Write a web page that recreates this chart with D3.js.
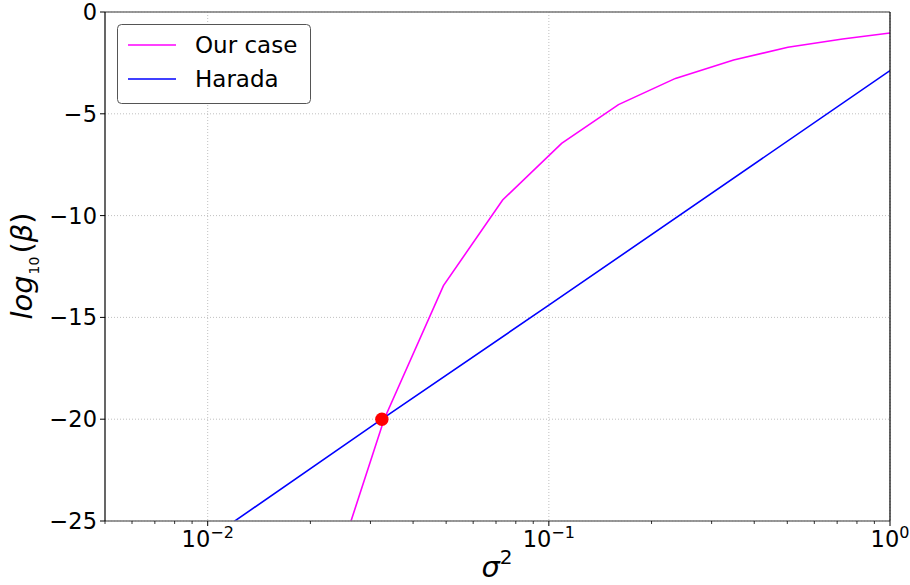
<!DOCTYPE html>
<html>
<head>
<meta charset="utf-8">
<script src="https://cdn.jsdelivr.net/npm/d3@7"></script>
<style>
  html, body { margin: 0; padding: 0; background: #fff; }
  svg { display: block; font-family: "DejaVu Sans", sans-serif; }
</style>
</head>
<body>
<svg id="chart" width="910" height="585"></svg>
<script>
// σ² sample points and log10(β) for the present model
const ourSigma2 = [1, 0.726, 0.502, 0.348, 0.235, 0.160, 0.109, 0.0732, 0.0491, 0.0329, 0.0227];
const ourLogBeta = [-1.03, -1.33, -1.73, -2.36, -3.26, -4.55, -6.45, -9.23, -13.44, -20.0, -28.3];

// Harada et al. estimate (straight line in log σ²)
const haradaSigma2 = [1, 0.1, 0.0324, 0.01, 0.005];
const haradaLogBeta = [-2.88, -14.40, -20.0, -25.92, -29.39];

// crossing point of the two curves
const crossSigma2 = [0.0324];
const crossLogBeta = [-20.0];

const xMajorTicks = [0.01, 0.1, 1];
const xMajorExps = ["−2", "−1", "0"];
const yTicks = [0, -5, -10, -15, -20, -25];
const seriesNames = ["Our case", "Harada"];
const seriesColors = ["#ff00ff", "#0000ff"];

const svg = d3.select("#chart");
const pL = 105, pR = 890, pT = 12, pB = 521;

const x = d3.scaleLog().domain([0.005, 1]).range([pL, pR]);
const y = d3.scaleLinear().domain([-25, 0]).range([pB, pT]);

// grid
const grid = svg.append("g").attr("stroke", "#b0b0b0").attr("stroke-width", 0.8)
  .attr("stroke-dasharray", "1,2");
grid.selectAll("line.gx").data(xMajorTicks).join("line").attr("class", "gx")
  .attr("x1", d => x(d)).attr("x2", d => x(d)).attr("y1", pT).attr("y2", pB);
grid.selectAll("line.gy").data(yTicks).join("line").attr("class", "gy")
  .attr("x1", pL).attr("x2", pR).attr("y1", d => y(d)).attr("y2", d => y(d));

// clip for the curves
svg.append("defs").append("clipPath").attr("id", "plotclip")
  .append("rect").attr("x", pL).attr("y", pT).attr("width", pR - pL).attr("height", pB - pT);

const line = d3.line().x(d => x(d[0])).y(d => y(d[1]));
const plot = svg.append("g").attr("clip-path", "url(#plotclip)");

plot.append("path")
  .datum(ourSigma2.map((s, i) => [s, ourLogBeta[i]]))
  .attr("d", line).attr("fill", "none").attr("stroke", seriesColors[0]).attr("stroke-width", 1.6);
plot.append("path")
  .datum(haradaSigma2.map((s, i) => [s, haradaLogBeta[i]]))
  .attr("d", line).attr("fill", "none").attr("stroke", seriesColors[1]).attr("stroke-width", 1.6);

svg.selectAll("circle.cross").data(crossSigma2).join("circle").attr("class", "cross")
  .attr("cx", d => x(d)).attr("cy", (d, i) => y(crossLogBeta[i])).attr("r", 6.7)
  .attr("fill", "#ff0000");

// frame
svg.append("line").attr("x1", pL).attr("x2", pR).attr("y1", pT).attr("y2", pT)
  .attr("stroke", "#777").attr("stroke-width", 1.6);
svg.append("line").attr("x1", pL).attr("x2", pR).attr("y1", pB).attr("y2", pB)
  .attr("stroke", "#777").attr("stroke-width", 1.6);
svg.append("line").attr("x1", pL).attr("x2", pL).attr("y1", pT).attr("y2", pB)
  .attr("stroke", "#000").attr("stroke-width", 1.2);
svg.append("line").attr("x1", pR).attr("x2", pR).attr("y1", pT).attr("y2", pB)
  .attr("stroke", "#000").attr("stroke-width", 1.2);

// x axis ticks
const minor = [];
[0.001, 0.01, 0.1].forEach(base => { for (let k = 2; k <= 9; k++) { const v = base * k; if (v >= 0.005 && v < 1) minor.push(v); } });
svg.append("g").selectAll("line").data(minor).join("line")
  .attr("x1", d => x(d)).attr("x2", d => x(d)).attr("y1", pB).attr("y2", pB + 3)
  .attr("stroke", "#000").attr("stroke-width", 0.8);
svg.append("g").selectAll("line").data(xMajorTicks).join("line")
  .attr("x1", d => x(d)).attr("x2", d => x(d)).attr("y1", pB).attr("y2", pB + 5)
  .attr("stroke", "#000").attr("stroke-width", 1);

const xl = svg.append("g").selectAll("text").data(xMajorTicks).join("text")
  .attr("x", d => x(d)).attr("y", 547).attr("text-anchor", "middle")
  .attr("font-size", 22.5).attr("fill", "#000");
xl.append("tspan").text("10");
xl.append("tspan").attr("dy", -9).attr("font-size", 16).text((d, i) => xMajorExps[i]);

// y axis ticks
svg.append("g").selectAll("line").data(yTicks).join("line")
  .attr("x1", pL - 5).attr("x2", pL).attr("y1", d => y(d)).attr("y2", d => y(d))
  .attr("stroke", "#000").attr("stroke-width", 1);
svg.append("g").selectAll("text").data(yTicks).join("text")
  .attr("x", 97).attr("y", d => y(d) + 8).attr("text-anchor", "end")
  .attr("font-size", 22.5).attr("fill", "#000")
  .text(d => d < 0 ? "−" + Math.abs(d) : String(d));

// axis labels
const xLab = svg.append("text").attr("x", 497).attr("y", 577).attr("text-anchor", "middle")
  .attr("font-size", 29).attr("font-style", "italic");
xLab.append("tspan").text("σ");
xLab.append("tspan").attr("dy", -13).attr("font-size", 20).attr("font-style", "normal").text("2");

const yLab = svg.append("text").attr("transform", "translate(32,266) rotate(-90)")
  .attr("text-anchor", "middle").attr("font-size", 29).attr("font-style", "italic");
yLab.append("tspan").text("log");
yLab.append("tspan").attr("dy", 7).attr("dx", 1).attr("font-size", 14).attr("font-style", "normal").text("10");
yLab.append("tspan").attr("dy", -7).attr("dx", 3).attr("font-style", "normal").text("(");
yLab.append("tspan").text("β");
yLab.append("tspan").attr("font-style", "normal").text(")");

// legend
const lg = svg.append("g");
lg.append("rect").attr("x", 117.5).attr("y", 24.5).attr("width", 193).attr("height", 79).attr("rx", 4)
  .attr("fill", "#fff").attr("stroke", "#555").attr("stroke-width", 1);
const lgY = [45, 79];
lg.selectAll("line").data(seriesNames).join("line")
  .attr("x1", 128).attr("x2", 176).attr("y1", (d, i) => lgY[i]).attr("y2", (d, i) => lgY[i])
  .attr("stroke", (d, i) => seriesColors[i]).attr("stroke-width", 1.6);
lg.selectAll("text").data(seriesNames).join("text")
  .attr("x", 195).attr("y", (d, i) => lgY[i] + 8).attr("font-size", 23).text(d => d);
</script>
</body>
</html>
